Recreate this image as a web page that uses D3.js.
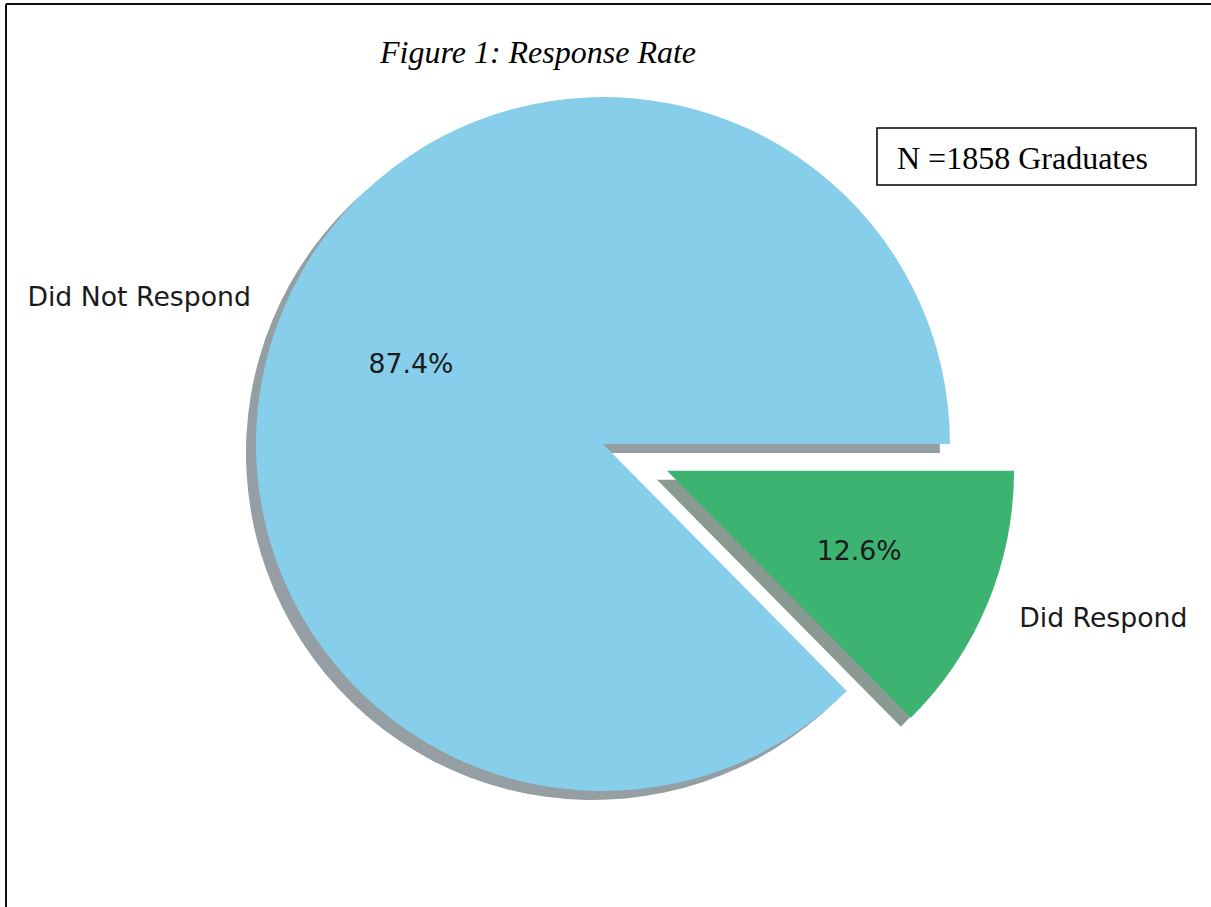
<!DOCTYPE html>
<html>
<head>
<meta charset="utf-8">
<script src="https://cdn.jsdelivr.net/npm/d3@7"></script>
<style>
  html, body { margin: 0; padding: 0; background: #fff; }
  svg { display: block; }
</style>
</head>
<body>
<svg id="chart" width="1211" height="907"></svg>
<script>
const categories = ["Did Not Respond", "Did Respond"];
const values = [87.4, 12.6];
const colors = ["#87CEEB", "#3CB371"];
const explode = [0, 0.2];
const titleText = "Figure 1: Response Rate";
const noteText = "N =1858 Graduates";

const svg = d3.select("#chart");
const W = 1211, H = 907;
const cx = 603, cy = 444, R = 347;

// outer frame (top and left edges visible, right/bottom cropped)
svg.append("line").attr("x1", 6).attr("y1", 4).attr("x2", W).attr("y2", 4)
  .attr("stroke", "#111").attr("stroke-width", 2);
svg.append("line").attr("x1", 6).attr("y1", 4).attr("x2", 6).attr("y2", H)
  .attr("stroke", "#111").attr("stroke-width", 2);

// title
svg.append("text").attr("x", 538).attr("y", 63)
  .attr("text-anchor", "middle")
  .attr("font-family", "'Liberation Serif', 'Times New Roman', serif")
  .attr("font-style", "italic").attr("font-size", 32).attr("fill", "#000")
  .text(titleText);

// note box
svg.append("rect").attr("x", 877).attr("y", 128).attr("width", 319).attr("height", 57)
  .attr("fill", "#fff").attr("stroke", "#000").attr("stroke-width", 1.5);
svg.append("text").attr("x", 897).attr("y", 169)
  .attr("font-family", "'Liberation Serif', 'Times New Roman', serif")
  .attr("font-size", 32).attr("fill", "#000")
  .text(noteText);

// pie: counter-clockwise from 3 o'clock (like matplotlib startangle=0)
const pie = d3.pie().sort(null).value(d => d.v)
  .startAngle(Math.PI / 2).endAngle(Math.PI / 2 - 2 * Math.PI);
const data = categories.map((c, i) => ({ c, v: values[i], col: colors[i], ex: explode[i] }));
const arcs = pie(data);
const total = d3.sum(values);

const arc = d3.arc().innerRadius(0).outerRadius(R);

function offset(a, dist) {
  const m = (a.startAngle + a.endAngle) / 2; // d3 angle (clockwise from top)
  return [Math.sin(m) * dist, -Math.cos(m) * dist];
}

function shadowColor(hex) {
  const c = d3.rgb(hex);
  const mix = v => Math.round(0.3 * v * 0.5 + 255 * 0.5);
  return d3.rgb(mix(c.r), mix(c.g), mix(c.b)).toString();
}

const g = svg.append("g").attr("transform", `translate(${cx},${cy})`);
const shx = -10, shy = 9;

// shadows
g.selectAll("path.shadow").data(arcs).enter().append("path")
  .attr("class", "shadow")
  .attr("d", arc)
  .attr("transform", d => {
    const [ox, oy] = offset(d, d.data.ex * R);
    return `translate(${ox + shx},${oy + shy})`;
  })
  .attr("fill", d => shadowColor(d.data.col));

// wedges
g.selectAll("path.wedge").data(arcs).enter().append("path")
  .attr("class", "wedge")
  .attr("d", arc)
  .attr("transform", d => {
    const [ox, oy] = offset(d, d.data.ex * R);
    return `translate(${ox},${oy})`;
  })
  .attr("fill", d => d.data.col);

// category labels
g.selectAll("text.lab").data(arcs).enter().append("text")
  .attr("class", "lab")
  .attr("x", d => offset(d, (d.data.ex + 1.1) * R)[0])
  .attr("y", d => offset(d, (d.data.ex + 1.1) * R)[1])
  .attr("dy", "0.35em")
  .attr("text-anchor", d => offset(d, 1)[0] < 0 ? "end" : "start")
  .attr("font-family", "'DejaVu Sans', sans-serif")
  .attr("font-size", 26.7).attr("fill", "#1a1a1a")
  .text(d => d.data.c);

// percentage labels
g.selectAll("text.pct").data(arcs).enter().append("text")
  .attr("class", "pct")
  .attr("x", d => offset(d, (d.data.ex + 0.6) * R)[0])
  .attr("y", d => offset(d, (d.data.ex + 0.6) * R)[1])
  .attr("dy", "0.35em")
  .attr("text-anchor", "middle")
  .attr("font-family", "'DejaVu Sans', sans-serif")
  .attr("font-size", 26.7).attr("fill", "#1a1a1a")
  .text(d => (d.data.v / total * 100).toFixed(1) + "%");
</script>
</body>
</html>
